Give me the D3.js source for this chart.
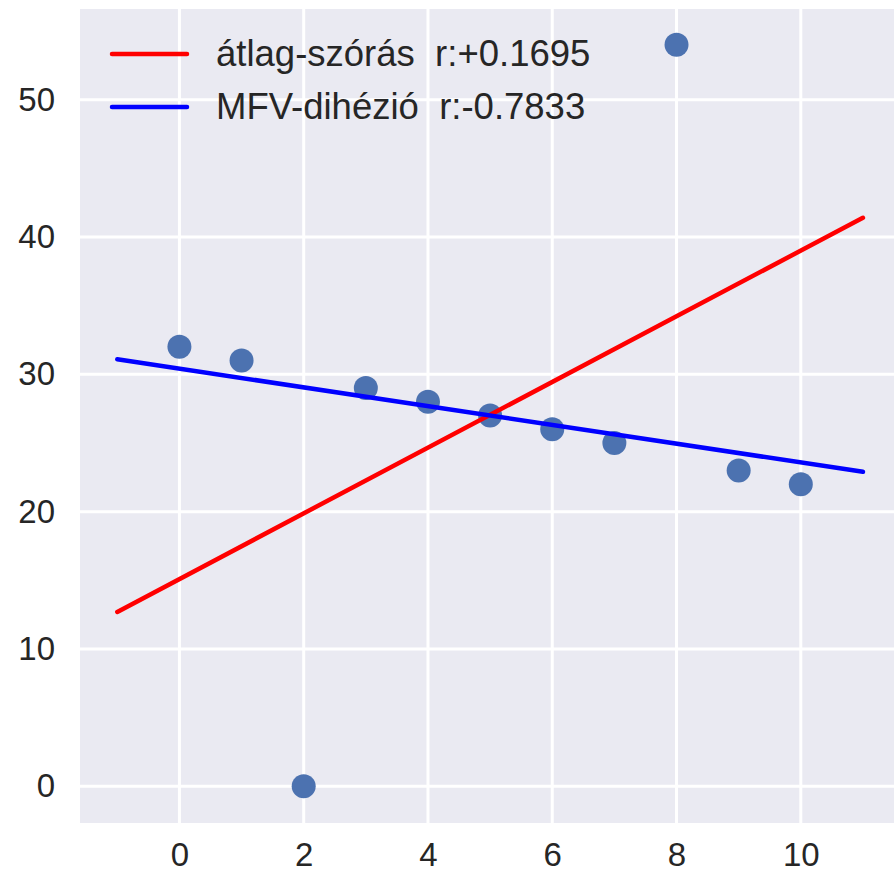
<!DOCTYPE html>
<html>
<head>
<meta charset="utf-8">
<script src="https://cdn.jsdelivr.net/npm/d3@7"></script>
<style>
  body { margin: 0; background: #fff; }
  text { font-family: "Liberation Sans", Arial, sans-serif; fill: #262626; }
</style>
</head>
<body>
<div id="chart"></div>
<script>
// data points
var xs = [0, 1, 2, 3, 4, 5, 6, 7, 8, 9, 10];
var ys = [32, 31, 0, 29, 28, 27, 26, 25, 54, 23, 22];

// fitted lines (endpoints)
var lineX = [-1, 11];
var redY = [12.7, 41.4];
var blueY = [31.1, 22.9];

var legendLabels = ["átlag-szórás  r:+0.1695", "MFV-dihézió  r:-0.7833"];
var xTicks = [0, 2, 4, 6, 8, 10];
var yTicks = [0, 10, 20, 30, 40, 50];

var width = 894, height = 877;
var mLeft = 80, mRight = 894, mTop = 9, mBottom = 823;

var svg = d3.select('#chart').append('svg')
    .attr('width', width)
    .attr('height', height);

var x = d3.scaleLinear().domain([-1.6, 11.5]).range([mLeft, mRight]);
var y = d3.scaleLinear().domain([-2.67, 56.6]).range([mBottom, mTop]);

// background
svg.append('rect')
    .attr('x', mLeft).attr('y', mTop)
    .attr('width', mRight - mLeft).attr('height', mBottom - mTop)
    .attr('fill', '#eaeaf2');

// grid
svg.append('g').selectAll('line').data(xTicks).enter().append('line')
    .attr('x1', function(d) { return x(d); }).attr('x2', function(d) { return x(d); })
    .attr('y1', mTop).attr('y2', mBottom)
    .attr('stroke', '#fff').attr('stroke-width', 3);
svg.append('g').selectAll('line').data(yTicks).enter().append('line')
    .attr('y1', function(d) { return y(d); }).attr('y2', function(d) { return y(d); })
    .attr('x1', mLeft).attr('x2', mRight)
    .attr('stroke', '#fff').attr('stroke-width', 3);

// axes (labels only)
var xAxis = svg.append('g')
    .attr('transform', 'translate(0,' + mBottom + ')')
    .call(d3.axisBottom(x).tickValues(xTicks).tickSize(0).tickPadding(20));
var yAxis = svg.append('g')
    .attr('transform', 'translate(' + mLeft + ',0)')
    .call(d3.axisLeft(y).tickValues(yTicks).tickSize(0).tickPadding(25));
[xAxis, yAxis].forEach(function(a) {
    a.select('.domain').remove();
    a.selectAll('text').style('font-size', '33px').attr('fill', '#262626')
        .style('font-family', '"Liberation Sans", Arial, sans-serif');
});

// points
svg.append('g').selectAll('circle')
    .data(xs)
    .enter()
    .append('circle')
    .attr('cx', function(d) { return x(d); })
    .attr('cy', function(d, i) { return y(ys[i]); })
    .attr('r', 12)
    .attr('fill', '#4c72b0');

// lines
var line = d3.line()
    .x(function(d) { return x(d[0]); })
    .y(function(d) { return y(d[1]); });
svg.append('path')
    .datum(lineX.map(function(v, i) { return [v, redY[i]]; }))
    .attr('d', line).attr('stroke', 'red').attr('stroke-width', 4.5)
    .attr('fill', 'none').attr('stroke-linecap', 'round');
svg.append('path')
    .datum(lineX.map(function(v, i) { return [v, blueY[i]]; }))
    .attr('d', line).attr('stroke', 'blue').attr('stroke-width', 4.5)
    .attr('fill', 'none').attr('stroke-linecap', 'round');

// legend
var legColors = ['red', 'blue'];
var leg = svg.append('g');
legendLabels.forEach(function(t, i) {
    var ly = 54 + i * 53;
    leg.append('line')
        .attr('x1', 112).attr('x2', 187)
        .attr('y1', ly).attr('y2', ly)
        .attr('stroke', legColors[i]).attr('stroke-width', 4.5)
        .attr('stroke-linecap', 'round');
    leg.append('text')
        .attr('x', 216).attr('y', ly + 12)
        .style('font-size', '36.5px')
        .style('white-space', 'pre')
        .text(t);
});
</script>
</body>
</html>
